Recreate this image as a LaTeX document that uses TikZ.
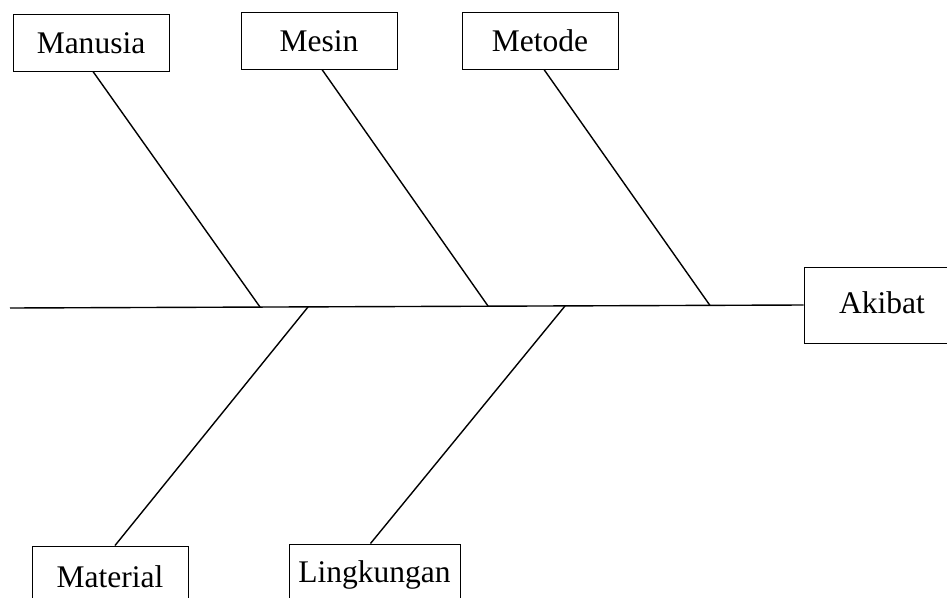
\documentclass[tikz,border=0pt]{standalone}
\usepackage{fontspec}
\setmainfont{Liberation Serif}
\begin{document}
\begin{tikzpicture}[x=1pt,y=-1pt,
  cause/.style={draw, line width=1pt, minimum width=156pt, minimum height=57pt, inner sep=0pt,
    text height=21pt, text depth=0pt, font=\fontsize{31.5}{34}\selectfont},
  bone/.style={line width=1.4pt}]
\useasboundingbox (0,0) rectangle (947,597);
\clip (0,0) rectangle (947,597);
\fill[white] (0,0) rectangle (947,597);
% boxes
\node[cause] (man) at (91,42.5) {Manusia};
\node[cause] (mes) at (319,40.5) {Mesin};
\node[cause] (met) at (540,40.5) {Metode};
\node[cause, minimum height=76pt, text height=16pt] (aki) at (882,305) {Akibat};
\node[cause, text height=25pt] (mat) at (110,574.5) {Material};
\node[cause, minimum width=171pt, text height=19pt] (lin) at (374.5,572.5) {Lingkungan};
% spine
\coordinate (s0) at (10,308);
\coordinate (jman) at (260,307);
\coordinate (jmes) at (488,306);
\coordinate (jmet) at (710,305.5);
\coordinate (jmat) at (308,307);
\coordinate (jlin) at (565,306);
\draw[bone] (s0) -- (aki.west);
% bones
\draw[bone] ([xshift=2pt]man.south) -- (jman);
\draw[bone] ([xshift=3pt]mes.south) -- (jmes);
\draw[bone] ([xshift=4pt]met.south) -- (jmet);
\draw[bone] ([xshift=5pt]mat.north) -- (jmat);
\draw[bone] ([xshift=-4pt]lin.north) -- (jlin);
\end{tikzpicture}
\end{document}
